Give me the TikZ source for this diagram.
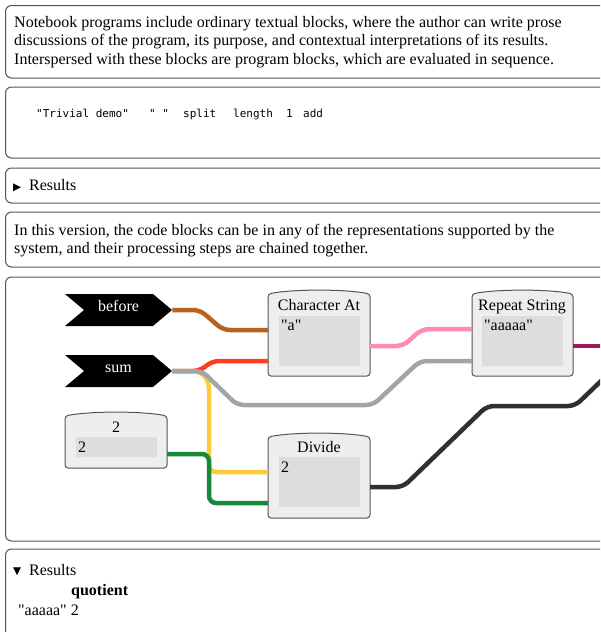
\documentclass[tikz,border=0pt]{standalone}
\usepackage{fontspec}
\setmainfont{Liberation Serif}
\setmonofont{DejaVu Sans Mono}
\newfontfamily\symfont{DejaVu Sans}
\usetikzlibrary{shapes.symbols}
\definecolor{cellline}{HTML}{555555}
\definecolor{blockfill}{HTML}{EEEEEE}
\definecolor{valuefill}{HTML}{DDDDDD}
\definecolor{wirebrown}{HTML}{B8621E}
\definecolor{wirered}{HTML}{FF3C1E}
\definecolor{wiregray}{HTML}{A0A5AA}
\definecolor{wireyellow}{HTML}{FFCA3A}
\definecolor{wiregreen}{HTML}{16893A}
\definecolor{wirepink}{HTML}{FF8CAC}
\definecolor{wiremaroon}{HTML}{9C1C60}
\definecolor{wiredark}{HTML}{2E3035}
\begin{document}
\begin{tikzpicture}[
			x=1pt, y=-1pt,
			every node/.style={inner sep=0pt, font=\fontsize{16}{18}\selectfont},
			cell/.style={draw=cellline, line width=1pt, rounded corners=6pt},
			blockline/.style={draw=cellline, fill=blockfill, line width=1pt, rounded corners=3pt},
			valuebox/.style={fill=valuefill, minimum width=81pt, minimum height=50pt, anchor=north west},
			tag/.style={signal, signal to=east, signal from=west, signal pointer angle=80,
					fill=black, text=white, minimum width=107pt, minimum height=32pt,
					text height=11pt, text depth=9pt},
			marker/.style={anchor=base west, font=\symfont\fontsize{10.5}{12}\selectfont},
			wire/.style={line width=4.5pt, rounded corners=7pt},
			code/.style={font=\ttfamily\fontsize{11}{13}\selectfont, anchor=base west}
		]
		\clip (0,0) rectangle (600,632);
		\fill[white] (0,0) rectangle (600,632);

		\draw[cell] (5.5,5.5) rectangle (615,78);
		\node[anchor=base west] (introa) at (14,27) {Notebook programs include ordinary textual blocks, where the author can write prose};
		\node[anchor=base west] (introb) at (14,45.5) {discussions of the program, its purpose, and contextual interpretations of its results.};
		\node[anchor=base west] (introc) at (14,64) {Interspersed with these blocks are program blocks, which are evaluated in sequence.};

		\draw[cell] (5.5,87) rectangle (615,158);
		\node[code] (tok1) at (36,117) {"Trivial demo"};
		\node[code] (tok2) at (149,117) {" "};
		\node[code] (tok3) at (183,117) {split};
		\node[code] (tok4) at (233,117) {length};
		\node[code] (tok5) at (286,117) {1};
		\node[code] (tok6) at (303,117) {add};

		\draw[cell] (5.5,168) rectangle (615,203);
		\node[marker] (closed) at (13,190) {▶};
		\node[anchor=base west] (resa) at (29,190) {Results};

		\draw[cell] (5.5,212) rectangle (615,267);
		\node[anchor=base west] (versa) at (14,235) {In this version, the code blocks can be in any of the representations supported by the};
		\node[anchor=base west] (versb) at (14,253.5) {system, and their processing steps are chained together.};

		\draw[cell] (5.5,277) rectangle (615,541);

		\node[tag] (before) at (118.5,310) {before};
		\node[tag] (sum) at (118.5,371) {sum};

		\draw[blockline] (65,468) -- (65,416) .. controls (90,411) and (142,411) .. (167,416) -- (167,468) -- cycle;
		\draw[blockline] (268,376) -- (268,294) .. controls (293,289) and (345,289) .. (370,294) -- (370,376) -- cycle;
		\draw[blockline] (472,376) -- (472,294) .. controls (497,289) and (548,289) .. (573,294) -- (573,376) -- cycle;
		\draw[blockline] (268,518) -- (268,437) .. controls (293,432) and (345,432) .. (370,437) -- (370,518) -- cycle;

		\node[anchor=base] (twotitle) at (116,432) {2};
		\node[valuebox, minimum height=20pt] (twoval) at (76,437) {};
		\node[anchor=base west] (twotext) at (78,452) {2};

		\node[anchor=base] (chatitle) at (319,310) {Character At};
		\node[valuebox] (chaval) at (279,316) {};
		\node[anchor=base west] (chatext) at (281,330) {\textquotedbl a\textquotedbl};

		\node[anchor=base] (reptitle) at (522,310) {Repeat String};
		\node[valuebox] (repval) at (482,316) {};
		\node[anchor=base west] (reptext) at (484,330) {\textquotedbl aaaaa\textquotedbl};

		\node[anchor=base] (divtitle) at (319,452) {Divide};
		\node[valuebox] (divval) at (279,457) {};
		\node[anchor=base west] (divtext) at (281,472) {2};

		\coordinate (chain) at (268,330);
		\coordinate (chbin) at (268,361);
		\coordinate (chout) at (370,346);
		\coordinate (repain) at (472,329);
		\coordinate (repbin) at (472,361);
		\coordinate (repout) at (573,346);
		\coordinate (divain) at (268,472);
		\coordinate (divbin) at (268,503);
		\coordinate (divout) at (370,487);
		\coordinate (twoout) at (167,454);
		\coordinate (offright) at (615,346);
		\coordinate (offtop) at (615,368);

		\draw[wire, wirebrown] (before.east) -- (200,310) -- (223,330) -- (chain);
		\draw[wire, wirered] (sum.east) -- (200,371) -- (212,361) -- (chbin);
		\draw[wire, wireyellow] (sum.east) -- (200,371) -- (209,381) -- (209,472) -- (divain);
		\draw[wire, wiregreen] (twoout) -- (209,454) -- (209,503) -- (divbin);
		\draw[wire, wiregray] (sum.east) -- (202,371) -- (237,405) -- (373,405) -- (420,361) -- (repbin);
		\draw[wire, wirepink] (chout) -- (403,346) -- (422,329) -- (repain);
		\draw[wire, wiremaroon] (repout) -- (offright);
		\draw[wire, wiredark] (divout) -- (403,487) -- (487,406) -- (575,406) -- (601,381) -- (offtop);

		\draw[cell] (5.5,549) rectangle (615,650);
		\node[marker] (open) at (13,574) {▼};
		\node[anchor=base west] (resb) at (29,575) {Results};
		\node[anchor=base west, font=\fontsize{16}{18}\selectfont\bfseries] (quot) at (71,595) {quotient};
		\node[anchor=base west] (output) at (18,615) {\textquotedbl aaaaa\textquotedbl{} 2};
	\end{tikzpicture}
\end{document}
